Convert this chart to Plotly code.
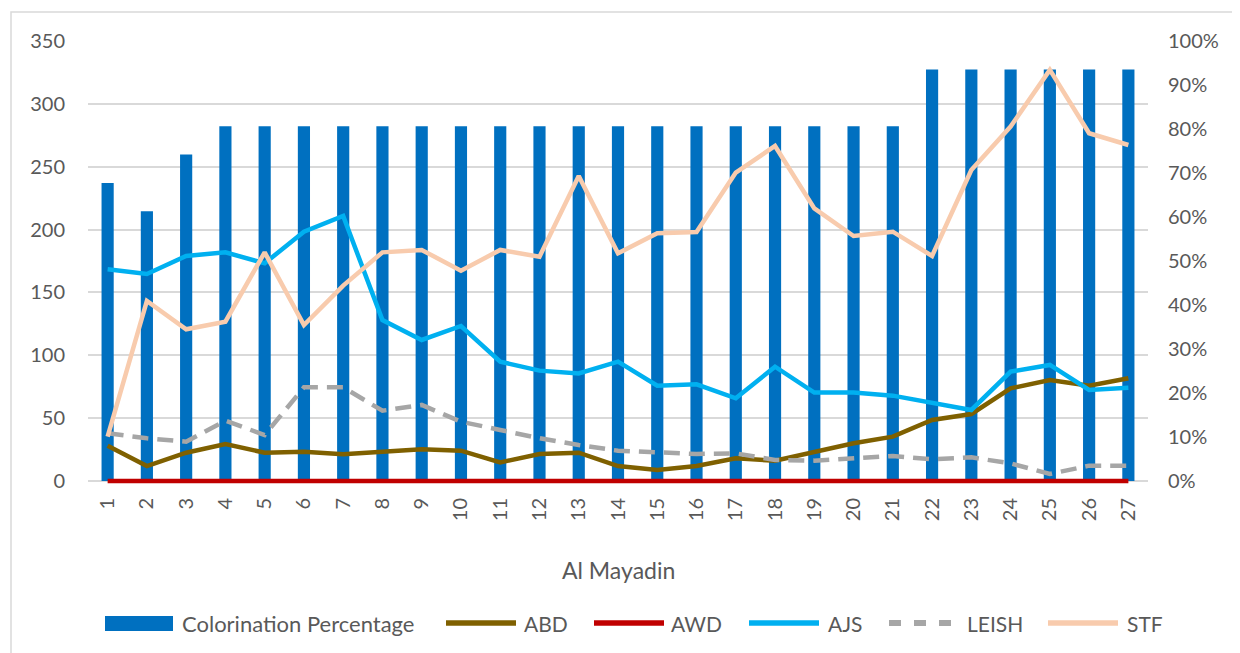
import plotly.graph_objects as go

categories = [str(i) for i in range(1, 28)]

colorination_pct = [0.677, 0.613, 0.742] + [0.806] * 18 + [0.935] * 6

abd = [28.1, 11.9, 22.5, 29.4, 22.5, 23.3, 21.2, 22.8, 25.2, 24.1, 14.8, 21.5, 22.5, 11.9,
       8.8, 11.9, 18.0, 16.2, 23.3, 30.0, 35.3, 48.5, 53.3, 73.7, 80.3, 75.8, 81.7]
awd = [0] * 27
ajs = [168.4, 164.7, 179.0, 181.9, 173.2, 198.3, 210.8, 128.0, 112.2, 123.3, 94.9, 87.8, 85.6, 94.9,
       75.8, 76.9, 65.8, 90.9, 70.3, 70.3, 67.9, 62.3, 56.5, 87.0, 92.3, 72.4, 74.2]
leish = [37.9, 34.0, 31.3, 48.0, 36.6, 74.5, 74.5, 55.9, 60.5, 47.2, 40.6, 34.0, 28.6, 24.1,
         22.8, 21.5, 22.0, 16.7, 16.2, 18.0, 19.9, 17.2, 18.8, 14.0, 5.6, 12.2, 12.2]
stf = [35.3, 143.2, 120.7, 126.7, 181.9, 124.1, 155.4, 181.9, 183.8, 167.3, 183.8, 178.4, 242.6, 181.1,
       197.0, 198.1, 245.3, 266.5, 216.9, 194.9, 198.3, 179.0, 247.4, 281.9, 327.0, 276.6, 267.3]

FONT = "Lato"
GREY = "#595959"
OFF = 8  # page body margin
W, H = 1240, 653
EXT = 4  # extra px below zero so the thick zero-level line is not clipped
L, T = 88 - OFF, 41 - OFF
PW, PH = 1060, 440 + EXT
R, B = W - L - PW, H - T - PH
Y0 = 481  # page y of the zero level


def px(x):
    return (x - OFF - L) / PW


def py(y):
    return (T + PH - (y - OFF)) / PH


fig = go.Figure()
fig.add_trace(go.Bar(x=categories, y=colorination_pct, name="Colorination Percentage",
                     marker=dict(color="#0070C0", line=dict(width=0)), width=0.31, yaxis="y",
                     showlegend=False))
line_specs = [
    ("ABD", abd, "#7F6000", "solid"),
    ("AWD", awd, "#C00000", "solid"),
    ("AJS", ajs, "#00B0F0", "solid"),
    ("LEISH", leish, "#A6A6A6", "16px,9px"),
    ("STF", stf, "#F8CBAD", "solid"),
]
for name, vals, col, dash in line_specs:
    fig.add_trace(go.Scatter(x=categories, y=vals, name=name, mode="lines", yaxis="y2",
                             line=dict(color=col, width=4.5, dash=dash), showlegend=False))

shapes = [dict(type="rect", xref="paper", yref="paper", x0=px(11), x1=px(1260), y0=py(670), y1=py(12),
               line=dict(color="#D9D9D9", width=1.5), fillcolor="rgba(0,0,0,0)", layer="below")]
annotations = []
LY = 623
TS = 21
shapes.append(dict(type="rect", xref="paper", yref="paper", x0=px(105), x1=px(173), y0=py(631), y1=py(616),
                   line=dict(width=0), fillcolor="#0070C0"))
annotations.append(dict(xref="paper", yref="paper", x=px(180), y=py(LY), text="Colorination Percentage",
                        showarrow=False, xanchor="left", yanchor="middle", font=dict(size=TS + 1, color=GREY)))
legend_items = [("ABD", "#7F6000", 445, 517, 522, "solid"),
                ("AWD", "#C00000", 593, 665, 669, "solid"),
                ("AJS", "#00B0F0", 748, 820, 826, "solid"),
                ("LEISH", "#A6A6A6", 887, 953, 965, "dash"),
                ("STF", "#F8CBAD", 1047, 1119, 1125, "solid")]
for name, col, x0, x1, tx, dash in legend_items:
    if dash == "dash":
        for k in range(3):
            a = x0 + k * 25
            shapes.append(dict(type="line", xref="paper", yref="paper", x0=px(a + 2), x1=px(a + 14),
                               y0=py(LY), y1=py(LY), line=dict(color=col, width=6)))
    else:
        shapes.append(dict(type="line", xref="paper", yref="paper", x0=px(x0 + 1), x1=px(x1 - 1),
                           y0=py(LY), y1=py(LY), line=dict(color=col, width=5.5)))
    annotations.append(dict(xref="paper", yref="paper", x=px(tx), y=py(LY), text=name,
                            showarrow=False, xanchor="left", yanchor="middle",
                            font=dict(size=TS, color=GREY)))
annotations.append(dict(xref="paper", yref="paper", x=px(618), y=py(570), text="Al Mayadin",
                        showarrow=False, xanchor="center", yanchor="middle",
                        font=dict(size=23, color=GREY)))

fig.update_layout(
    width=W, height=H,
    margin=dict(l=L, r=R, t=T, b=B, autoexpand=False),
    paper_bgcolor="white", plot_bgcolor="white",
    font=dict(family=FONT, size=20, color=GREY),
    showlegend=False,
    xaxis=dict(type="category", tickangle=-90, showgrid=False, showline=False,
               ticks="", ticklabelstandoff=12 - EXT,
               tickfont=dict(size=20, color=GREY)),
    yaxis=dict(side="right", range=[-EXT / 440, 1], tickformat=".0%", dtick=0.1, showgrid=False,
               zeroline=False, showline=False, ticklabelstandoff=19,
               tickfont=dict(size=20, color=GREY)),
    yaxis2=dict(side="left", overlaying="y", range=[-350 * EXT / 440, 350], dtick=50, showgrid=True,
                gridcolor="#D9D9D9", gridwidth=1.5, zeroline=True, zerolinecolor="#D9D9D9",
                zerolinewidth=1.5, showline=False,
                ticklabelstandoff=22, tickfont=dict(size=20, color=GREY)),
    shapes=shapes,
    annotations=annotations,
)

fig.write_html("out.html")
